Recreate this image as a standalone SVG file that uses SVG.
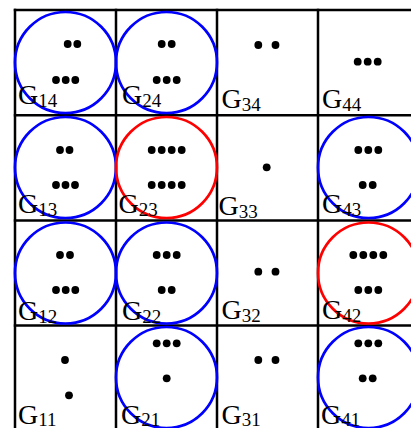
<svg xmlns="http://www.w3.org/2000/svg" width="411" height="428" viewBox="0 0 411 428">
<style>
.grid line{stroke:#000;stroke-width:2.5}
.b{fill:none;stroke:#0000ff;stroke-width:2.7}
.r{fill:none;stroke:#ff0000;stroke-width:2.7}
.d{fill:#000}
text{font-family:"Liberation Serif","Times New Roman",serif;font-size:28px;fill:#000}
.s{font-size:19px}
</style>
<defs><circle id="dot" r="3.9" class="d"/></defs>
<rect width="411" height="428" fill="#fff"/>
<g id="grid" class="grid">
<line x1="15" y1="8.8" x2="15" y2="430"/>
<line x1="116" y1="8.8" x2="116" y2="430"/>
<line x1="217" y1="8.8" x2="217" y2="430"/>
<line x1="318" y1="8.8" x2="318" y2="430"/>
<line x1="13.8" y1="10" x2="420" y2="10"/>
<line x1="13.8" y1="115.2" x2="420" y2="115.2"/>
<line x1="13.8" y1="220.6" x2="420" y2="220.6"/>
<line x1="13.8" y1="325.6" x2="420" y2="325.6"/>
</g>
<g id="G14">
<circle class="b" cx="65.5" cy="62.5" r="50.5"/>
<use href="#dot" x="67.7" y="44"/><use href="#dot" x="77.3" y="44"/>
<use href="#dot" x="56" y="80"/><use href="#dot" x="65.7" y="80"/><use href="#dot" x="75.3" y="80"/>
<text x="18" y="104">G<tspan class="s" dy="3">14</tspan></text>
</g>
<g id="G24">
<circle class="b" cx="166.5" cy="62.5" r="50.5"/>
<use href="#dot" x="161.7" y="44"/><use href="#dot" x="171.7" y="44"/>
<use href="#dot" x="156.7" y="80"/><use href="#dot" x="166.7" y="80"/><use href="#dot" x="176.7" y="80"/>
<text x="122" y="104">G<tspan class="s" dy="3">24</tspan></text>
</g>
<g id="G34">
<use href="#dot" x="258.3" y="45"/><use href="#dot" x="275.5" y="45"/>
<text x="221.5" y="108">G<tspan class="s" dy="3">34</tspan></text>
</g>
<g id="G44">
<use href="#dot" x="357.7" y="61.7"/><use href="#dot" x="367.7" y="61.7"/><use href="#dot" x="377.7" y="61.7"/>
<text x="322" y="108">G<tspan class="s" dy="3">44</tspan></text>
</g>
<g id="G13">
<circle class="b" cx="65.5" cy="167.5" r="50.5"/>
<use href="#dot" x="60" y="150"/><use href="#dot" x="69.5" y="150"/>
<use href="#dot" x="56" y="185"/><use href="#dot" x="65.5" y="185"/><use href="#dot" x="75" y="185"/>
<text x="18" y="213">G<tspan class="s" dy="3">13</tspan></text>
</g>
<g id="G23">
<circle class="r" cx="166.5" cy="167.5" r="50.5"/>
<use href="#dot" x="151.7" y="150"/><use href="#dot" x="161.7" y="150"/><use href="#dot" x="171.7" y="150"/><use href="#dot" x="181.7" y="150"/>
<use href="#dot" x="151.7" y="185"/><use href="#dot" x="161.7" y="185"/><use href="#dot" x="171.7" y="185"/><use href="#dot" x="181.7" y="185"/>
<text x="118.5" y="213">G<tspan class="s" dy="3">23</tspan></text>
</g>
<g id="G33">
<use href="#dot" x="266.7" y="167.3"/>
<text x="218.5" y="215">G<tspan class="s" dy="3">33</tspan></text>
</g>
<g id="G43">
<circle class="b" cx="368.5" cy="167.5" r="50.5"/>
<use href="#dot" x="358.3" y="150"/><use href="#dot" x="368.3" y="150"/><use href="#dot" x="378.3" y="150"/>
<use href="#dot" x="362.7" y="185"/><use href="#dot" x="372.7" y="185"/>
<text x="322" y="213">G<tspan class="s" dy="3">43</tspan></text>
</g>
<g id="G12">
<circle class="b" cx="65.5" cy="273" r="50.5"/>
<use href="#dot" x="60" y="255"/><use href="#dot" x="70" y="255"/>
<use href="#dot" x="56" y="290"/><use href="#dot" x="65.7" y="290"/><use href="#dot" x="75.3" y="290"/>
<text x="18" y="320">G<tspan class="s" dy="3">12</tspan></text>
</g>
<g id="G22">
<circle class="b" cx="166.5" cy="273" r="50.5"/>
<use href="#dot" x="156.7" y="255"/><use href="#dot" x="166.7" y="255"/><use href="#dot" x="176.7" y="255"/>
<use href="#dot" x="161.7" y="290"/><use href="#dot" x="171.7" y="290"/>
<text x="122" y="320">G<tspan class="s" dy="3">22</tspan></text>
</g>
<g id="G32">
<use href="#dot" x="258.3" y="271.7"/><use href="#dot" x="275.5" y="271.7"/>
<text x="221.5" y="319">G<tspan class="s" dy="3">32</tspan></text>
</g>
<g id="G42">
<circle class="r" cx="368.5" cy="273" r="50.5"/>
<use href="#dot" x="353.3" y="255"/><use href="#dot" x="363.3" y="255"/><use href="#dot" x="373.3" y="255"/><use href="#dot" x="383.3" y="255"/>
<use href="#dot" x="358.3" y="290"/><use href="#dot" x="368.3" y="290"/><use href="#dot" x="378.3" y="290"/>
<text x="322" y="319">G<tspan class="s" dy="3">42</tspan></text>
</g>
<g id="G11">
<use href="#dot" x="65" y="360"/><use href="#dot" x="69" y="395.3"/>
<text x="18" y="423.5">G<tspan class="s" dy="2.5">11</tspan></text>
</g>
<g id="G21">
<circle class="b" cx="166.5" cy="377.5" r="50.5"/>
<use href="#dot" x="156.7" y="343.3"/><use href="#dot" x="166.7" y="343.3"/><use href="#dot" x="176.7" y="343.3"/>
<use href="#dot" x="166.7" y="378.3"/>
<text x="121" y="423.5">G<tspan class="s" dy="2.5">21</tspan></text>
</g>
<g id="G31">
<use href="#dot" x="258.3" y="360"/><use href="#dot" x="275.5" y="360"/>
<text x="221.5" y="423.5">G<tspan class="s" dy="2.5">31</tspan></text>
</g>
<g id="G41">
<circle class="b" cx="368.5" cy="377.5" r="50.5"/>
<use href="#dot" x="358.3" y="343.3"/><use href="#dot" x="368.3" y="343.3"/><use href="#dot" x="378.3" y="343.3"/>
<use href="#dot" x="362.7" y="378.3"/><use href="#dot" x="372.7" y="378.3"/>
<text x="321" y="423.5">G<tspan class="s" dy="2.5">41</tspan></text>
</g>
</svg>
